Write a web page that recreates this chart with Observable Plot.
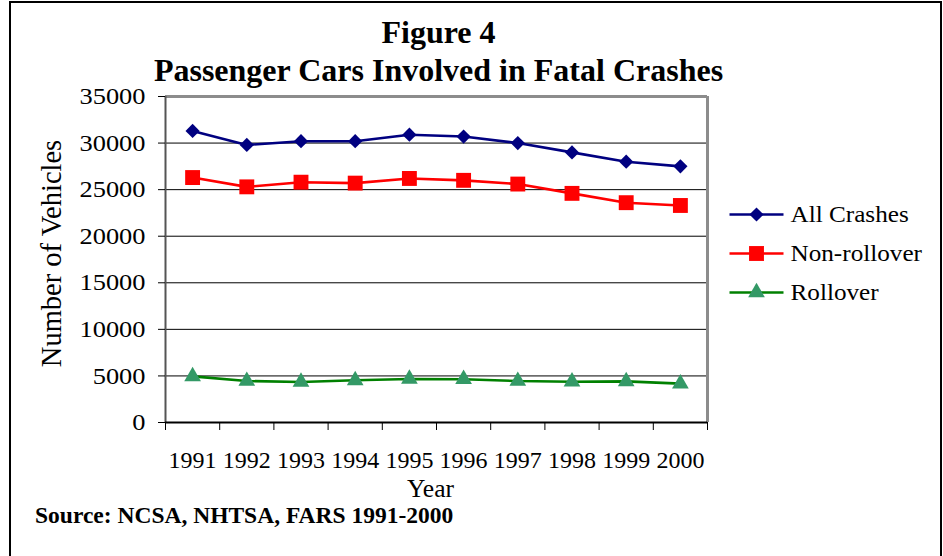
<!DOCTYPE html>
<html>
<head>
<meta charset="utf-8">
<script src="https://cdn.jsdelivr.net/npm/d3@7"></script>
<script src="https://cdn.jsdelivr.net/npm/@observablehq/plot@0.6"></script>
<style>
  html, body { margin: 0; padding: 0; background: #fff; overflow: hidden; }
  #wrap { position: relative; width: 943px; height: 556px; background: #fff; font-family: "Liberation Serif", "Times New Roman", serif; color: #000; }
  #border { position: absolute; left: 9px; top: 1px; width: 929px; height: 600px; border: 2px solid #000; border-bottom: none; }
  #title { position: absolute; left: 0; top: 13px; width: 877px; text-align: center; font-weight: bold; font-size: 32px; line-height: 38px; }
  #source { position: absolute; left: 35px; top: 502px; font-weight: bold; font-size: 23.5px; line-height: normal; }
  #chart { position: absolute; left: 0; top: 0; }
  #legend { position: absolute; left: 725px; top: 195px; }
</style>
</head>
<body>
<div id="wrap">
  <div id="border"></div>
  <div id="chart"></div>
  <div id="legend"></div>
  <div id="title">Figure 4<br>Passenger Cars Involved in Fatal Crashes</div>
  <div id="source">Source: NCSA, NHTSA, FARS 1991-2000</div>
</div>
<script>
const years = [1991, 1992, 1993, 1994, 1995, 1996, 1997, 1998, 1999, 2000];
const allCrashes = [31300, 29800, 30200, 30200, 30900, 30700, 30000, 29000, 28000, 27500];
const nonRollover = [26300, 25300, 25800, 25700, 26200, 26000, 25600, 24600, 23600, 23300];
const rollover = [4950, 4450, 4350, 4530, 4670, 4650, 4450, 4380, 4420, 4170];
const seriesNames = ["All Crashes", "Non-rollover", "Rollover"];
const yTicks = [0, 5000, 10000, 15000, 20000, 25000, 30000, 35000];
const gridTicks = [5000, 10000, 15000, 20000, 25000, 30000];
const yLabel = "Number of Vehicles";
const xLabel = "Year";

const series = [
  {name: seriesNames[0], values: allCrashes, stroke: "#000080", fill: "#000080", symbol: "diamond2", r: 6.4},
  {name: seriesNames[1], values: nonRollover, stroke: "#ff0000", fill: "#ff0000", symbol: "square", r: 8.4},
  {name: seriesNames[2], values: rollover, stroke: "#008000", fill: "#339966", symbol: "triangle", r: 6.2}
];

const boundaries = [years[0] - 0.5, ...years.map(y => y + 0.5)];
const xMin = boundaries[0], xMax = boundaries[boundaries.length - 1];
const serif = "'Liberation Serif', 'Times New Roman', serif";

const marks = [
  Plot.ruleY(gridTicks, {stroke: "#000", strokeWidth: 1}),
  Plot.ruleY([35000], {stroke: "#8c8c8c", strokeWidth: 3}),
  Plot.ruleX([xMax], {stroke: "#8c8c8c", strokeWidth: 3}),
  Plot.ruleX([xMin], {stroke: "#555", strokeWidth: 2}),
  Plot.ruleY([0], {stroke: "#000", strokeWidth: 2}),
  Plot.axisY({ticks: yTicks, tickSize: 7, tickPadding: 13, fontSize: 24, label: null, tickFormat: d => String(d)}),
  Plot.axisX({ticks: boundaries, tickSize: 8, tickFormat: () => "", label: null}),
  Plot.axisX({ticks: years, tickSize: 0, tickPadding: 28, fontSize: 24, label: null, tickFormat: d => String(d)}),
  Plot.text([yLabel], {frameAnchor: "left", textAnchor: "middle", lineAnchor: "middle", rotate: -90, dx: -114, dy: -6, fontSize: 28.5}),
  Plot.text([xLabel], {frameAnchor: "bottom", textAnchor: "middle", dx: -6, dy: 74, fontSize: 25.5})
];

for (const s of series) {
  const data = years.map((y, i) => ({year: y, value: s.values[i]}));
  marks.push(Plot.line(data, {x: "year", y: "value", stroke: s.stroke, strokeWidth: 2.6}));
  marks.push(Plot.dot(data, {x: "year", y: "value", symbol: s.symbol, fill: s.fill, r: s.r, stroke: "none"}));
}

const chart = Plot.plot({
  width: 943,
  height: 556,
  marginLeft: 165,
  marginRight: 236,
  marginTop: 96,
  marginBottom: 134,
  style: {fontFamily: serif, fontSize: "24px", background: "transparent", color: "#000"},
  x: {domain: [xMin, xMax], axis: null},
  y: {domain: [0, 35000], axis: null},
  marks
});
document.getElementById("chart").appendChild(chart);

// horizontal glyph scaling to match the reference's text proportions
function stretch(root, selector, sx) {
  root.querySelectorAll(selector).forEach(t => {
    const tr = t.getAttribute("transform");
    if (tr && tr.includes("translate")) {
      t.setAttribute("transform", tr + ` scale(${sx},1)`);
    } else {
      const x = +(t.getAttribute("x") || 0);
      t.setAttribute("transform", `translate(${x},0) scale(${sx},1) translate(${-x},0)`);
    }
  });
}
stretch(chart, 'g[aria-label="y-axis tick label"] text', 1.1);

const legendData = series.map(s => ({name: s.name, stroke: s.stroke, fill: s.fill, symbol: s.symbol, r: s.r}));
const legend = Plot.plot({
  width: 215,
  height: 116,
  marginLeft: 4,
  marginRight: 157,
  marginTop: 19,
  marginBottom: 19,
  style: {fontFamily: serif, fontSize: "24px", background: "transparent", color: "#000", overflow: "visible"},
  x: {domain: [0, 1], axis: null},
  y: {type: "point", domain: seriesNames, axis: null, padding: 0},
  marks: [
    ...legendData.map(d => Plot.link([d], {x1: () => 0, x2: () => 1, y1: "name", y2: "name", stroke: d.stroke, strokeWidth: 2.6})),
    ...legendData.map(d => Plot.dot([d], {x: () => 0.5, y: "name", symbol: d.symbol, fill: d.fill, r: d.r, stroke: "none"})),
    Plot.text(legendData, {x: () => 1, y: "name", text: "name", textAnchor: "start", dx: 7, fontSize: 24})
  ]
});
document.getElementById("legend").appendChild(legend);
stretch(legend, 'g[aria-label="text"] text', 1.05);
</script>
</body>
</html>
